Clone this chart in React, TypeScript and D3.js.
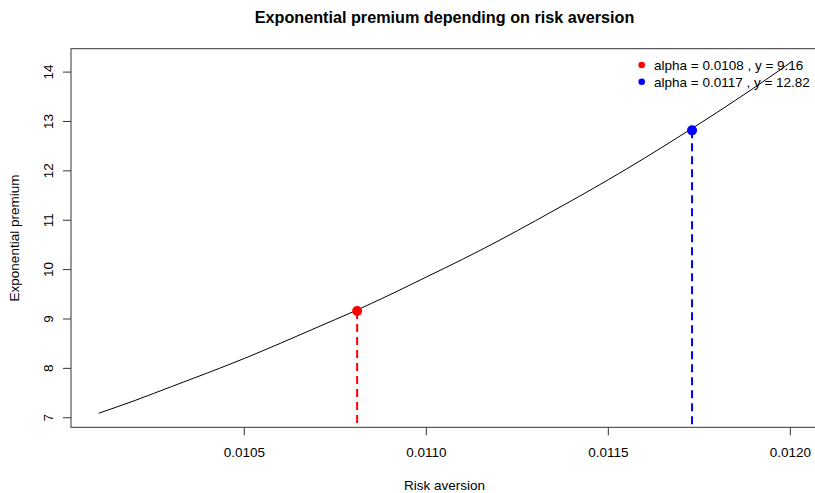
import React from "react";
import * as d3 from "d3";

const alphas = [0.0101, 0.0102, 0.0103, 0.0104, 0.0105, 0.0106, 0.0107, 0.0108, 0.0109, 0.011, 0.0111, 0.0112, 0.0113, 0.0114, 0.0115, 0.0116, 0.0117, 0.0118, 0.0119, 0.012];
const premiums = [7.09, 7.35, 7.63, 7.91, 8.2, 8.51, 8.83, 9.15, 9.49, 9.85, 10.21, 10.59, 10.99, 11.4, 11.82, 12.26, 12.72, 13.19, 13.68, 14.19];

const markAlphas = [0.01081, 0.01173];
const markValues = [9.16, 12.82];
const markColors = ["#ff0000", "#0000ff"];
const legendLabels = ["alpha = 0.0108 , y = 9.16", "alpha = 0.0117 , y = 12.82"];

const xTicks = [0.0105, 0.011, 0.0115, 0.012];
const yTicks = [7, 8, 9, 10, 11, 12, 13, 14];

const W = 815;
const H = 493;
const L = 71, R = 818, T = 48.7, B = 427.3;

export default function App() {
  const xMin = d3.min(alphas)!, xMax = d3.max(alphas)!;
  const yMin = d3.min(premiums)!, yMax = d3.max(premiums)!;
  const xPad = (xMax - xMin) * 0.04;
  const yPad = (yMax - yMin) * 0.04;
  const x = d3.scaleLinear().domain([xMin - xPad, xMax + xPad]).range([L, R]);
  const y = d3.scaleLinear().domain([yMin - yPad, yMax + yPad]).range([B, T]);
  const line = d3
    .line<number>()
    .x((_, i) => x(alphas[i]))
    .y((d) => y(d))
    .curve(d3.curveMonotoneX);
  const font = "'Liberation Sans', Arial, Helvetica, sans-serif";
  const axisColor = "#333";
  const fs = 13.5;
  return (
    <svg width={W} height={H} style={{ position: "absolute", left: 0, top: 0 }} fontFamily={font}>
      <rect width={W} height={H} fill="#fff" />
      <text x={(L + R) / 2} y={23} textAnchor="middle" fontWeight="bold" fontSize={16.2} fill="#000">
        Exponential premium depending on risk aversion
      </text>
      {/* curve */}
      <path d={line(premiums) || ""} fill="none" stroke="#000" strokeWidth={1} />
      {/* dashed drops and points */}
      {markAlphas.map((a, i) => (
        <g key={i}>
          <line x1={x(a)} x2={x(a)} y1={y(markValues[i])} y2={B} stroke={markColors[i]} strokeWidth={2} strokeDasharray="8,5" />
          <circle cx={x(a)} cy={y(markValues[i])} r={5} fill={markColors[i]} />
        </g>
      ))}
      {/* box */}
      <rect x={L} y={T} width={R - L} height={B - T} fill="none" stroke={axisColor} strokeWidth={1} />
      {/* x axis */}
      {xTicks.map((t) => (
        <g key={t}>
          <line x1={x(t)} x2={x(t)} y1={B} y2={B + 8} stroke={axisColor} />
          <text x={x(t)} y={457} textAnchor="middle" fontSize={fs} fill="#000">
            {t.toFixed(4)}
          </text>
        </g>
      ))}
      {/* y axis */}
      {yTicks.map((t) => (
        <g key={t}>
          <line x1={L - 8} x2={L} y1={y(t)} y2={y(t)} stroke={axisColor} />
          <text transform={`translate(52.5,${y(t)}) rotate(-90)`} textAnchor="middle" fontSize={fs} fill="#000">
            {t}
          </text>
        </g>
      ))}
      <text x={(L + R) / 2} y={490} textAnchor="middle" fontSize={fs} fill="#000">
        Risk aversion
      </text>
      <text transform={`translate(19,${(T + B) / 2}) rotate(-90)`} textAnchor="middle" fontSize={fs} fill="#000">
        Exponential premium
      </text>
      {/* legend */}
      {legendLabels.map((lab, i) => (
        <g key={lab}>
          <circle cx={641.7} cy={65 + i * 16.7} r={3.3} fill={markColors[i]} />
          <text x={654} y={70 + i * 16.7} fontSize={fs} fill="#000">
            {lab}
          </text>
        </g>
      ))}
    </svg>
  );
}
